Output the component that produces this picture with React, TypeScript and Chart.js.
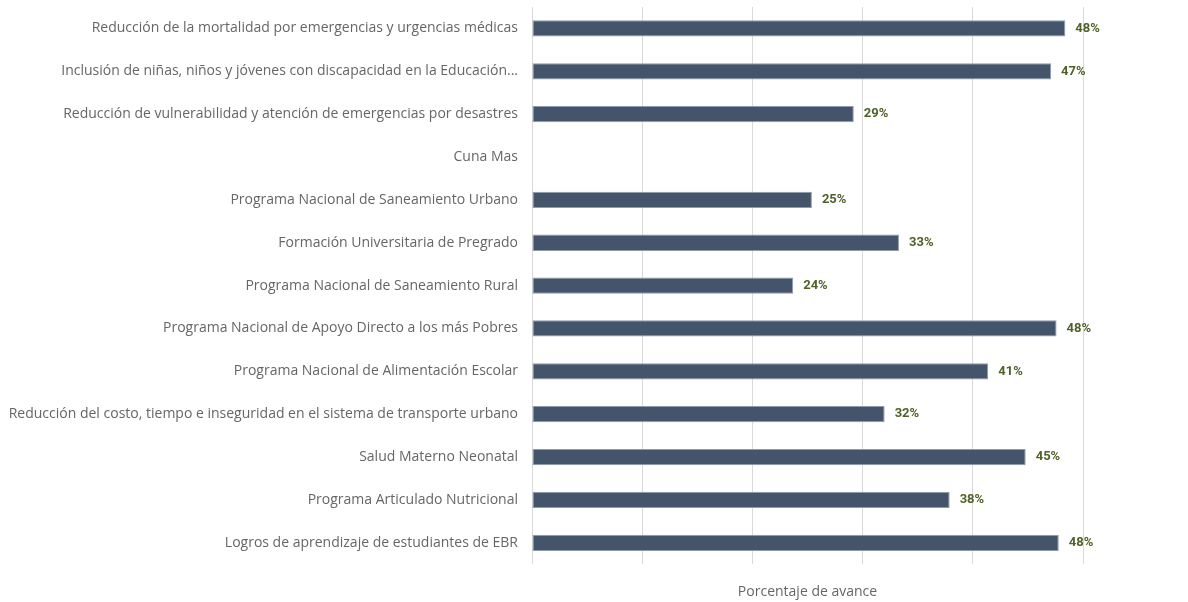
import React, { useEffect, useRef } from "react";
import { Chart, registerables } from "chart.js";

Chart.register(...registerables);

const categories: string[] = [
  "Reducción de la mortalidad por emergencias y urgencias médicas",
  "Inclusión de niñas, niños y jóvenes con discapacidad en la Educación...",
  "Reducción de vulnerabilidad y atención de emergencias por desastres",
  "Cuna Mas",
  "Programa Nacional de Saneamiento Urbano",
  "Formación Universitaria de Pregrado",
  "Programa Nacional de Saneamiento Rural",
  "Programa Nacional de Apoyo Directo a los más Pobres",
  "Programa Nacional de Alimentación Escolar",
  "Reducción del costo, tiempo e inseguridad en el sistema de transporte urbano",
  "Salud Materno Neonatal",
  "Programa Articulado Nutricional",
  "Logros de aprendizaje de estudiantes de EBR",
];

const avance: (number | null)[] = [
  48.4, 47.1, 29.2, null, 25.4, 33.3, 23.7, 47.6, 41.4, 32.0, 44.8, 37.9, 47.8,
];

const axisTitle = "Porcentaje de avance";
const xMin = 0;
const xMax = 50;
const xStep = 10;

const dataLabelPlugin = {
  id: "dataLabels",
  afterDatasetsDraw(chart: any) {
    const ctx = chart.ctx;
    const meta = chart.getDatasetMeta(0);
    ctx.save();
    ctx.font = "bold 13px Roboto, sans-serif";
    ctx.fillStyle = "#4F6228";
    ctx.textAlign = "left";
    ctx.textBaseline = "middle";
    meta.data.forEach((bar: any, i: number) => {
      const v = avance[i];
      if (v === null || v === undefined) return;
      ctx.fillText(Math.round(v) + "%", bar.x + 10, bar.y);
    });
    ctx.restore();
  },
};

export default function App() {
  const canvasRef = useRef<HTMLCanvasElement | null>(null);

  useEffect(() => {
    document.body.style.margin = "0";
    const canvas = canvasRef.current;
    if (!canvas) return;
    const chart = new Chart(canvas, {
      type: "bar",
      data: {
        labels: categories,
        datasets: [
          {
            label: axisTitle,
            data: avance as any,
            backgroundColor: "#44546A",
            borderColor: "#8E9AAE",
            borderWidth: 1,
            borderSkipped: false,
            barPercentage: 0.38,
            categoryPercentage: 1,
          },
        ],
      },
      options: {
        indexAxis: "y",
        animation: false,
        responsive: false,
        maintainAspectRatio: false,
        layout: { padding: { top: 7, right: 105, left: 0, bottom: 0 } },
        plugins: {
          legend: { display: false },
          tooltip: { enabled: false },
        },
        scales: {
          x: {
            min: xMin,
            max: xMax,
            ticks: { display: false, stepSize: xStep },
            grid: { color: "#D9D9D9", lineWidth: 1, drawTicks: false },
            border: { display: false },
            title: {
              display: true,
              text: axisTitle,
              color: "#666666",
              font: { family: "'Open Sans', sans-serif", size: 14 },
              padding: { top: 19, bottom: 2 },
            },
          },
          y: {
            grid: { display: false, drawTicks: false },
            border: { display: false },
            ticks: {
              autoSkip: false,
              color: "#666666",
              padding: 14,
              font: { family: "'Open Sans', sans-serif", size: 14 },
            },
            afterFit(scale: any) {
              scale.width = 532;
              scale.paddingTop = 0;
              scale.paddingBottom = 0;
            },
          },
        },
      },
      plugins: [dataLabelPlugin],
    });
    return () => chart.destroy();
  }, []);

  return (
    <div style={{ width: 1188, height: 602 }}>
      <canvas ref={canvasRef} width={1188} height={602} />
    </div>
  );
}
